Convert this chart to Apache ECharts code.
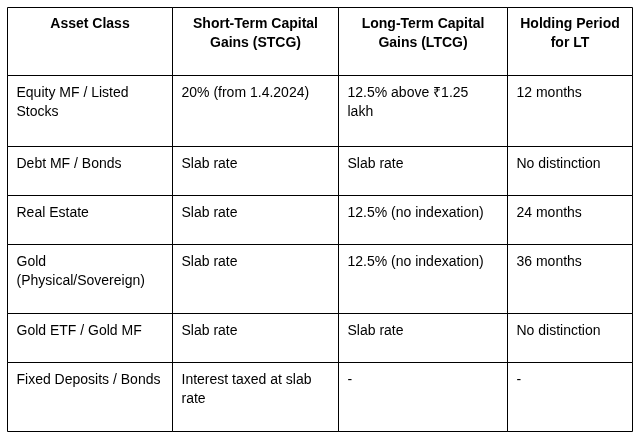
<!DOCTYPE html>
<html>
<head>
<meta charset="utf-8">
<script src="https://cdn.jsdelivr.net/npm/echarts@6/dist/echarts.min.js"></script>
<style>
    html, body {margin:0;padding:0;background:#ffffff;}
    #table-chart {width:639px;height:440px;}
</style>
</head>
<body>
<div id="table-chart"></div>
<script>
    // table contents
    var headers = ['Asset Class', 'Short-Term Capital\nGains (STCG)', 'Long-Term Capital\nGains (LTCG)', 'Holding Period\nfor LT'];
    var assetClasses = ['Equity MF / Listed\nStocks', 'Debt MF / Bonds', 'Real Estate', 'Gold\n(Physical/Sovereign)', 'Gold ETF / Gold MF', 'Fixed Deposits / Bonds'];
    var stcg = ['20% (from 1.4.2024)', 'Slab rate', 'Slab rate', 'Slab rate', 'Slab rate', 'Interest taxed at slab\nrate'];
    var ltcg = ['12.5% above \u20b91.25\nlakh', 'Slab rate', '12.5% (no indexation)', '12.5% (no indexation)', 'Slab rate', '-'];
    var holding = ['12 months', 'No distinction', '24 months', '36 months', 'No distinction', '-'];

    // cell edges in table units
    var colEdges = [0, 165, 331, 500, 625];
    var rowEdges = [0, 68, 139, 188, 237, 306, 355, 424];

    var cells = [];
    headers.forEach(function (h, c) {
        cells.push([c, 0, h]);
    });
    for (var r = 0; r < assetClasses.length; r++) {
        cells.push([0, r + 1, assetClasses[r]]);
        cells.push([1, r + 1, stcg[r]]);
        cells.push([2, r + 1, ltcg[r]]);
        cells.push([3, r + 1, holding[r]]);
    }

    var chart = echarts.init(document.getElementById('table-chart'));

    function renderCell(params, api) {
        var c = api.value(0), r = api.value(1);
        var text = cells[params.dataIndex][2];
        var p0 = api.coord([colEdges[c], rowEdges[r]]);
        var p1 = api.coord([colEdges[c + 1], rowEdges[r + 1]]);
        var x0 = Math.round(p0[0]) + 0.5, y0 = Math.round(p0[1]) + 0.5;
        var x1 = Math.round(p1[0]) + 0.5, y1 = Math.round(p1[1]) + 0.5;
        var isHead = r === 0;
        return {
            type: 'group',
            children: [
                {
                    type: 'rect',
                    shape: {x: x0, y: y0, width: x1 - x0, height: y1 - y0},
                    style: {fill: 'none', stroke: '#000000', lineWidth: 1}
                },
                {
                    type: 'text',
                    style: {
                        text: text,
                        x: isHead ? (x0 + x1) / 2 : x0 + 9,
                        y: y0 + (isHead ? 7 : 8),
                        align: isHead ? 'center' : 'left',
                        verticalAlign: 'top',
                        lineHeight: 19,
                        fill: '#000000',
                        fontSize: 14,
                        fontWeight: isHead ? 'bold' : 'normal',
                        fontFamily: 'Arial, "Liberation Sans", sans-serif'
                    }
                }
            ]
        };
    }

    var option = {
        backgroundColor: '#ffffff',
        animation: false,
        grid: {left: 7, top: 7, width: 625, height: 424},
        xAxis: {type: 'value', min: 0, max: 625, show: false},
        yAxis: {type: 'value', min: 0, max: 424, inverse: true, show: false},
        series: [
            {
                type: 'custom',
                renderItem: renderCell,
                data: cells.map(function (d) { return [d[0], d[1]]; })
            }
        ]
    };

    chart.setOption(option);
</script>
</body>
</html>
